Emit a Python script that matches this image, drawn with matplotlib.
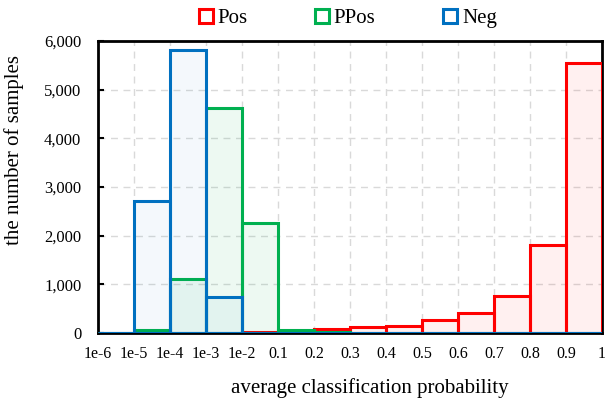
import matplotlib
matplotlib.use("Agg")
import matplotlib.pyplot as plt
import numpy as np
from matplotlib.lines import Line2D
from matplotlib.ticker import FuncFormatter

plt.rcParams['font.family'] = ['Liberation Serif', 'DejaVu Serif']

# bin edges, shown as categorical tick labels
tick_labels = ['1e-6', '1e-5', '1e-4', '1e-3', '1e-2', '0.1', '0.2', '0.3',
               '0.4', '0.5', '0.6', '0.7', '0.8', '0.9', '1']

# counts per bin (14 bins)
pos_counts = [0, 0, 0, 0, 25, 35, 80, 130, 150, 260, 420, 770, 1810, 5550]
ppos_counts = [0, 60, 1110, 4620, 2260, 60, 20, 5, 5, 5, 5, 5, 0, 0]
neg_counts = [10, 2720, 5810, 750, 0, 0, 0, 0, 0, 0, 0, 0, 0, 0]

series = [
    ('Pos', pos_counts, '#ff0000', (1.0, 0.0, 0.0, 0.06)),
    ('PPos', ppos_counts, '#00b050', (0.0, 0.69, 0.31, 0.07)),
    ('Neg', neg_counts, '#0070c0', (0.0, 0.44, 0.75, 0.045)),
]

fig = plt.figure(figsize=(6.05, 4.0), dpi=100)
ax = fig.add_axes([0.162, 0.1675, 0.833, 0.73])

x = np.arange(len(pos_counts))
for i, (name, vals, edge, face) in enumerate(series):
    ax.bar(x, vals, width=1, align='edge', facecolor=face, edgecolor=edge,
           linewidth=2.2, zorder=3 + i)

ax.set_xlim(0, len(pos_counts))
ax.set_ylim(0, 6000)
ax.set_xticks(np.arange(len(tick_labels)))
ax.set_xticklabels(tick_labels)
ax.set_yticks(np.arange(0, 6001, 1000))
ax.yaxis.set_major_formatter(FuncFormatter(lambda v, p: '{:,.0f}'.format(v)))
ax.tick_params(axis='x', length=0, labelsize=11.5, pad=9)
ax.tick_params(axis='y', direction='in', length=4, width=1.5,
               labelsize=12, pad=12)

ax.grid(True, linestyle=(0, (5, 4)), color='#d9d9d9', linewidth=1, zorder=0)
ax.set_axisbelow(True)
for s in ax.spines.values():
    s.set_linewidth(2)
    s.set_color('black')

ax.set_ylabel('the number of samples', fontsize=15)
ax.yaxis.set_label_coords(-0.147, 0.627)
ax.set_xlabel('average classification probability', fontsize=15)
ax.xaxis.set_label_coords(0.54, -0.155)

handles = [Line2D([], [], marker='s', linestyle='none', markersize=9.5,
                  markerfacecolor='white', markeredgecolor=edge,
                  markeredgewidth=2.2, label=name)
           for name, vals, edge, face in series]
fig.legend(handles=handles, loc='upper center', bbox_to_anchor=(0.572, 1.025),
           ncol=3, frameon=False, fontsize=15, handletextpad=0.05,
           columnspacing=3.1, handlelength=1.0)

fig.savefig('out.png', dpi=100)
